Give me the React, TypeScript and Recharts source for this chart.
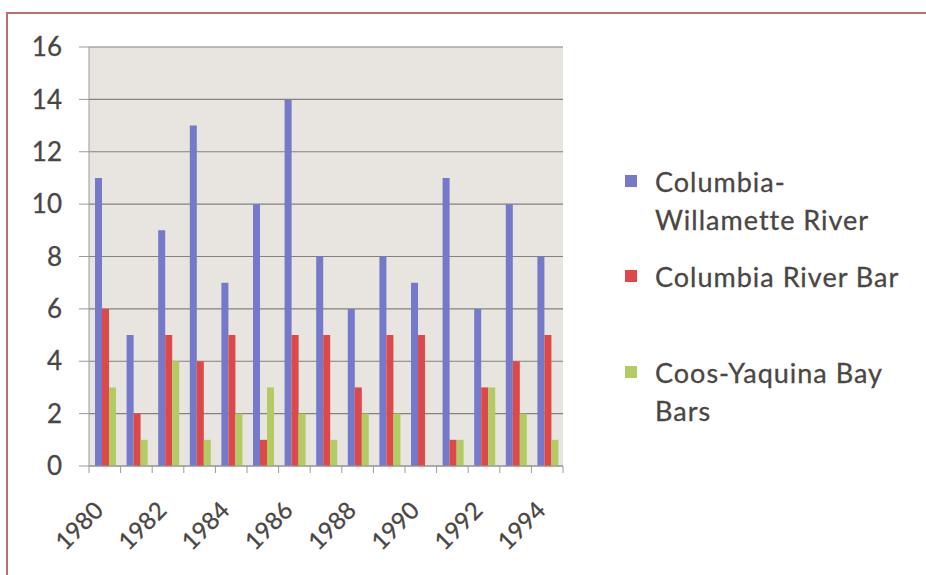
import React from "react";
import { BarChart, Bar, XAxis, YAxis, CartesianGrid } from "recharts";

// Incidents per year by waterway
const years = [
  "1980", "1981", "1982", "1983", "1984", "1985", "1986", "1987",
  "1988", "1989", "1990", "1991", "1992", "1993", "1994",
];
const columbiaWillamette = [11, 5, 9, 13, 7, 10, 14, 8, 6, 8, 7, 11, 6, 10, 8];
const columbiaBar = [6, 2, 5, 4, 5, 1, 5, 5, 3, 5, 5, 1, 3, 4, 5];
const coosYaquina = [3, 1, 4, 1, 2, 3, 2, 1, 2, 2, 0, 1, 3, 2, 1];
const yTicks = [0, 2, 4, 6, 8, 10, 12, 14, 16];

const seriesNames = ["Columbia-Willamette River", "Columbia River Bar", "Coos-Yaquina Bay Bars"];
const legendLines = [["Columbia-", "Willamette River"], ["Columbia River Bar"], ["Coos-Yaquina Bay", "Bars"]];

const COLORS = ["#7479c9", "#dd4848", "#b2cb63"];
const FONT = "Lato, 'Open Sans', sans-serif";
const TEXT = "#4a4644";

const data = years.map((year, i) => ({
  year,
  cw: columbiaWillamette[i],
  crb: columbiaBar[i],
  cyb: coosYaquina[i],
}));

// Tick marks sit on category boundaries; labels only on every other year
function YearTick(props: any) {
  const { x, y, payload } = props;
  const half = payload?.offset ?? 15.8;
  const idx = payload?.index ?? 0;
  return (
    <g>
      <line x1={x - half} x2={x - half} y1={y} y2={y + 7} stroke="#9a9a9a" />
      {idx === years.length - 1 && (
        <line x1={x + half} x2={x + half} y1={y} y2={y + 7} stroke="#9a9a9a" />
      )}
      {idx % 2 === 0 && (
        <text
          transform={`translate(${x},${y + 46}) rotate(-45)`}
          textAnchor="end"
          fontFamily={FONT}
          fontSize={24}
          fill={TEXT}
          stroke={TEXT}
          strokeWidth={0.3}
        >
          {payload.value}
        </text>
      )}
    </g>
  );
}

function SideLegend() {
  const tops = [0, 95, 191];
  return (
    <div style={{ position: "absolute", left: 625, top: 163, width: 300, height: 280, fontFamily: FONT }}>
      {legendLines.map((lines, i) => (
        <div key={seriesNames[i]} style={{ position: "absolute", left: 0, top: tops[i] }}>
          <span
            style={{
              position: "absolute",
              left: 0,
              top: 12,
              width: 12,
              height: 12,
              background: COLORS[i],
            }}
          />
          {lines.map((line) => (
            <div
              key={line}
              style={{
                marginLeft: 30,
                fontSize: 27,
                lineHeight: "38px",
                letterSpacing: 1,
                color: TEXT,
                WebkitTextStroke: "0.3px " + TEXT,
                whiteSpace: "nowrap",
              }}
            >
              {line}
            </div>
          ))}
        </div>
      ))}
    </div>
  );
}

export default function App() {
  return (
    <div
      style={{
        position: "absolute",
        left: 0,
        top: 0,
        width: 926,
        height: 575,
        background: "#fff",
        overflow: "hidden",
      }}
    >
      <div
        style={{
          position: "absolute",
          left: 6,
          top: 12,
          width: 940,
          height: 600,
          borderTop: "2px solid #b97070",
          borderLeft: "2px solid #b97070",
        }}
      />
      <div style={{ position: "absolute", left: 0, top: 0 }}>
        <BarChart
          width={926}
          height={575}
          data={data}
          margin={{ top: 47, right: 363, bottom: 0, left: 0 }}
          barCategoryGap="19%"
          barGap={0}
        >
          <CartesianGrid vertical={false} fill="#e8e4e0" stroke="#85817d" strokeWidth={1.2} />
          <XAxis
            dataKey="year"
            interval={0}
            tickSize={0}
            tickMargin={0}
            tickLine={false}
            axisLine={{ stroke: "#9a9a9a" }}
            tick={<YearTick />}
            height={109}
          />
          <YAxis
            width={89}
            domain={[0, 16]}
            ticks={yTicks}
            interval={0}
            tickSize={10}
            tickMargin={17}
            axisLine={{ stroke: "#9a9a9a" }}
            tickLine={{ stroke: "#9a9a9a" }}
            tick={{ fontFamily: FONT, fontSize: 26, fill: TEXT, stroke: TEXT, strokeWidth: 0.3 }}
          />
          <Bar dataKey="cw" name={seriesNames[0]} fill={COLORS[0]} isAnimationActive={false} />
          <Bar dataKey="crb" name={seriesNames[1]} fill={COLORS[1]} isAnimationActive={false} />
          <Bar dataKey="cyb" name={seriesNames[2]} fill={COLORS[2]} isAnimationActive={false} />
        </BarChart>
      </div>
      <SideLegend />
    </div>
  );
}
